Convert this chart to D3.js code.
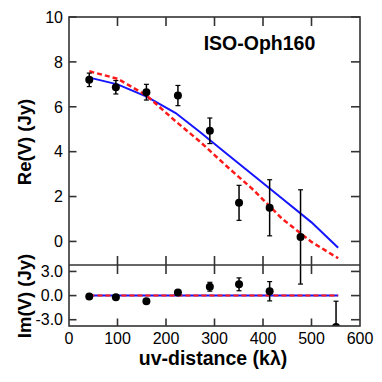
<!DOCTYPE html>
<html>
<head>
<meta charset="utf-8">
<script src="https://cdn.jsdelivr.net/npm/d3@7"></script>
<style>
  body { margin: 0; background: #fff; }
  svg { display: block; font-family: "Liberation Sans", Arial, sans-serif; }
</style>
</head>
<body>
<svg id="chart" width="382" height="382"></svg>
<script>
// observed visibilities
const uvDist = [41.8, 96.6, 159.6, 224.6, 290.4, 350.6, 413.7, 477.4];
const reVal = [7.2, 6.87, 6.65, 6.5, 4.93, 1.72, 1.5, 0.2];
const reErr = [0.3, 0.3, 0.35, 0.45, 0.57, 0.78, 1.25, 2.1];

const imDist = [41.8, 96.6, 159.6, 224.6, 290.4, 350.6, 413.7, 550.6];
const imVal = [-0.12, -0.2, -0.7, 0.37, 1.1, 1.4, 0.54, -3.9];
const imErr = [0.15, 0.15, 0.15, 0.2, 0.55, 0.8, 1.2, 3.2];

// model curves
const blueX = [40, 100, 160, 220, 270, 320, 380, 440, 500, 555];
const blueRe = [7.31, 7.0, 6.45, 5.72, 4.88, 4.0, 2.95, 1.9, 0.85, -0.28];
const redX = [42, 100, 160, 220, 270, 320, 380, 440, 500, 555];
const redRe = [7.58, 7.25, 6.5, 5.35, 4.45, 3.45, 2.3, 1.0, -0.02, -0.75];

const xTicks = [0, 100, 200, 300, 400, 500, 600];
const reTicks = [0, 2, 4, 6, 8, 10];
const imTicks = [-3, 0, 3];

const LEFT = 69;
const RIGHT = 360;
const TOP = 17;
const MID = 265;
const BOTTOM = 326;
const FRAME = '#333';
const TICK = 9;
const TICK_L = 7.5;

const svg = d3.select('#chart');

const x = d3.scaleLinear().domain([0, 600]).range([LEFT, RIGHT]);
const yRe = d3.scaleLinear().domain([-1.05, 10]).range([MID, TOP]);
const yIm = d3.scaleLinear().domain([-3.78, 3.8]).range([BOTTOM, MID]);

svg.append('clipPath').attr('id', 'clipIm')
	.append('rect')
	.attr('x', LEFT).attr('y', MID)
	.attr('width', RIGHT - LEFT).attr('height', BOTTOM - MID);

// models
const line = (xs, ys, yScale) => d3.line()
	.x((d, i) => x(xs[i]))
	.y(d => yScale(d))(ys);

const models = svg.append('g').attr('fill', 'none');
models.append('path')
	.attr('d', line(blueX, blueRe, yRe))
	.attr('stroke', '#1515ff').attr('stroke-width', 2);
models.append('path')
	.attr('d', line(redX, redRe, yRe))
	.attr('stroke', '#ff1a1a').attr('stroke-width', 2.5)
	.attr('stroke-dasharray', '5 3');
models.append('line')
	.attr('x1', x(blueX[0])).attr('x2', x(555))
	.attr('y1', yIm(0)).attr('y2', yIm(0))
	.attr('stroke', '#1515ff').attr('stroke-width', 2);
models.append('line')
	.attr('x1', x(redX[0])).attr('x2', x(555))
	.attr('y1', yIm(0)).attr('y2', yIm(0))
	.attr('stroke', '#ff1a1a').attr('stroke-width', 2)
	.attr('stroke-dasharray', '5 3');

// data points with error bars
function drawPoints(g, xs, vals, errs, yScale) {
	xs.forEach((d, i) => {
		const cx = x(d);
		const y0 = yScale(vals[i] - errs[i]);
		const y1 = yScale(vals[i] + errs[i]);
		g.append('line')
			.attr('x1', cx).attr('x2', cx).attr('y1', y0).attr('y2', y1)
			.attr('stroke', '#000').attr('stroke-width', 1.5);
		[y0, y1].forEach(yy => {
			g.append('line')
				.attr('x1', cx - 2.5).attr('x2', cx + 2.5).attr('y1', yy).attr('y2', yy)
				.attr('stroke', '#000').attr('stroke-width', 1.2);
		});
		g.append('circle')
			.attr('cx', cx).attr('cy', yScale(vals[i])).attr('r', 4)
			.attr('fill', '#000');
	});
}
drawPoints(svg.append('g'), uvDist, reVal, reErr, yRe);
drawPoints(svg.append('g').attr('clip-path', 'url(#clipIm)'), imDist, imVal, imErr, yIm);

// frame
const frame = svg.append('g').attr('stroke', FRAME).attr('stroke-width', 1.6).attr('fill', 'none');
frame.append('rect')
	.attr('x', LEFT).attr('y', TOP)
	.attr('width', RIGHT - LEFT).attr('height', BOTTOM - TOP);
frame.append('line')
	.attr('x1', LEFT).attr('x2', RIGHT).attr('y1', MID).attr('y2', MID);

// x ticks: inside at top and bottom, crossing the divider
xTicks.slice(1, -1).forEach(t => {
	frame.append('line')
		.attr('x1', x(t)).attr('x2', x(t)).attr('y1', TOP).attr('y2', TOP + TICK);
	frame.append('line')
		.attr('x1', x(t)).attr('x2', x(t)).attr('y1', MID - TICK).attr('y2', MID + TICK);
	frame.append('line')
		.attr('x1', x(t)).attr('x2', x(t)).attr('y1', BOTTOM - TICK_L).attr('y2', BOTTOM);
});

// y ticks: inside on both sides
reTicks.forEach(t => {
	frame.append('line')
		.attr('x1', LEFT).attr('x2', LEFT + TICK_L).attr('y1', yRe(t)).attr('y2', yRe(t));
	frame.append('line')
		.attr('x1', RIGHT - TICK).attr('x2', RIGHT).attr('y1', yRe(t)).attr('y2', yRe(t));
});
imTicks.forEach(t => {
	frame.append('line')
		.attr('x1', LEFT).attr('x2', LEFT + TICK_L).attr('y1', yIm(t)).attr('y2', yIm(t));
	frame.append('line')
		.attr('x1', RIGHT - TICK).attr('x2', RIGHT).attr('y1', yIm(t)).attr('y2', yIm(t));
});

// tick labels
const labels = svg.append('g').attr('font-size', 16).attr('fill', '#000');
reTicks.forEach(t => {
	labels.append('text')
		.attr('x', LEFT - 6).attr('y', yRe(t)).attr('dy', '0.36em')
		.attr('text-anchor', 'end').text(t);
});
imTicks.forEach(t => {
	labels.append('text')
		.attr('x', LEFT - 6).attr('y', yIm(t)).attr('dy', '0.36em')
		.attr('text-anchor', 'end').text(d3.format('.1f')(t).replace('−', '-'));
});
xTicks.forEach(t => {
	labels.append('text')
		.attr('x', x(t)).attr('y', 344)
		.attr('text-anchor', 'middle').text(t);
});

// titles
const titles = svg.append('g').attr('font-weight', 'bold').attr('fill', '#000');
titles.append('text')
	.attr('x', 259.5).attr('y', 50).attr('font-size', 19.5)
	.attr('text-anchor', 'middle').text('ISO-Oph160');
titles.append('text')
	.attr('transform', `translate(31, 142) rotate(-90)`).attr('font-size', 18.5)
	.attr('text-anchor', 'middle').text('Re(V) (Jy)');
titles.append('text')
	.attr('transform', `translate(31, 296) rotate(-90)`).attr('font-size', 18.5)
	.attr('text-anchor', 'middle').text('Im(V) (Jy)');
titles.append('text')
	.attr('x', 213).attr('y', 365).attr('font-size', 19.5)
	.attr('text-anchor', 'middle').text('uv-distance (kλ)');
</script>
</body>
</html>
